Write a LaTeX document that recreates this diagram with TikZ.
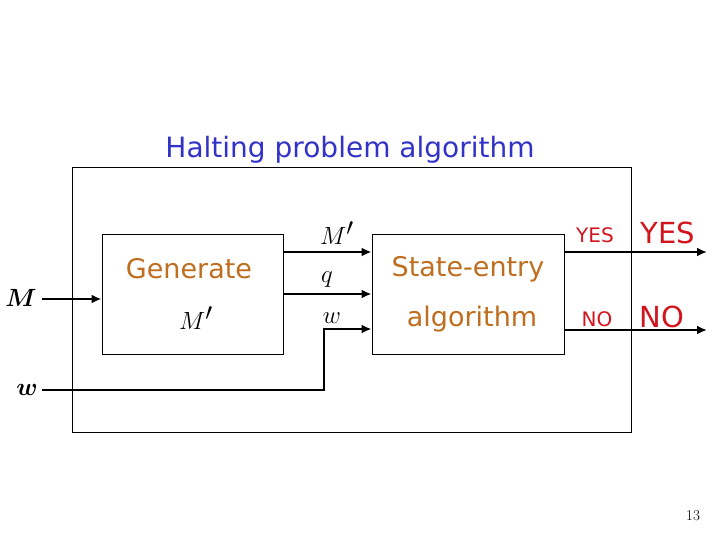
\documentclass[tikz,border=0pt]{standalone}
\usepackage{amsmath}
\usepackage{fontspec}
\setmainfont{DejaVu Sans}
\newfontfamily\mathser{Latin Modern Roman}
\usetikzlibrary{arrows.meta}
\definecolor{brn}{RGB}{190,110,30}
\definecolor{ttl}{RGB}{50,50,200}
\definecolor{rd}{RGB}{210,20,30}
\begin{document}
\begin{tikzpicture}[x=1pt,y=-1pt,
  box/.style={draw,line width=1pt},
  arr/.style={line width=2.4pt,-{Latex[length=10pt,width=9pt]}},
  lbl/.style={font=\fontsize{27}{30}\selectfont},
  mth/.style={font=\fontsize{33}{36}\selectfont}]
\useasboundingbox (0,0) rectangle (720,540);
\draw[box] (72,168) rectangle (631,432);
\node[box,minimum width=181pt,minimum height=120pt,inner sep=0] (gen) at (192.5,294) {};
\node[box,minimum width=192pt,minimum height=120pt,inner sep=0] (sea) at (468,294) {};
\node[text=ttl,font=\fontsize{28}{32}\selectfont] (title) at (350,150) {Halting problem algorithm};
\node[lbl,text=brn] (g1) at (189,269) {Generate};
\node[mth] (g2) at (196,318) {$M'$};
\node[lbl,text=brn] (s1) at (468,269) {State-entry};
\node[lbl,text=brn] (s2) at (472,319) {algorithm};
\node[mth] (Min) at (21,298) {$\boldsymbol{M}$};
\node[mth] (win) at (27,390) {$\boldsymbol{w}$};
\coordinate (Ms) at (42,299);
\coordinate (ws) at (42,390);
\coordinate (wc) at (324,390);
\draw[arr] (Ms) -- (gen.west |- Ms);
\draw[arr] (283,252) -- (sea.west |- 0,252);
\draw[arr] (283,294) -- (sea.west |- 0,294);
\draw[arr] (ws) -- (wc) -- (324,329) -- (sea.west |- 0,329);
\node[mth] (lM) at (337,233) {$M'$};
\node[mth] (lq) at (327,280) {$q$};
\node[mth] (lw) at (332,318) {$w$};
\coordinate (ye) at (707,252);
\coordinate (ne) at (707,330);
\draw[arr] (sea.east |- ye) -- (ye);
\draw[arr] (sea.east |- ne) -- (ne);
\node[text=rd,font=\fontsize{20}{22}\selectfont] (y1) at (595,235) {YES};
\node[text=rd,font=\fontsize{29}{32}\selectfont] (y2) at (668,233) {YES};
\node[text=rd,font=\fontsize{20}{22}\selectfont] (n1) at (597,319) {NO};
\node[text=rd,font=\fontsize{29}{32}\selectfont] (n2) at (662,317) {NO};
\node[font=\mathser\fontsize{15}{17}\selectfont] (pg) at (693,516) {13};
\end{tikzpicture}
\end{document}
